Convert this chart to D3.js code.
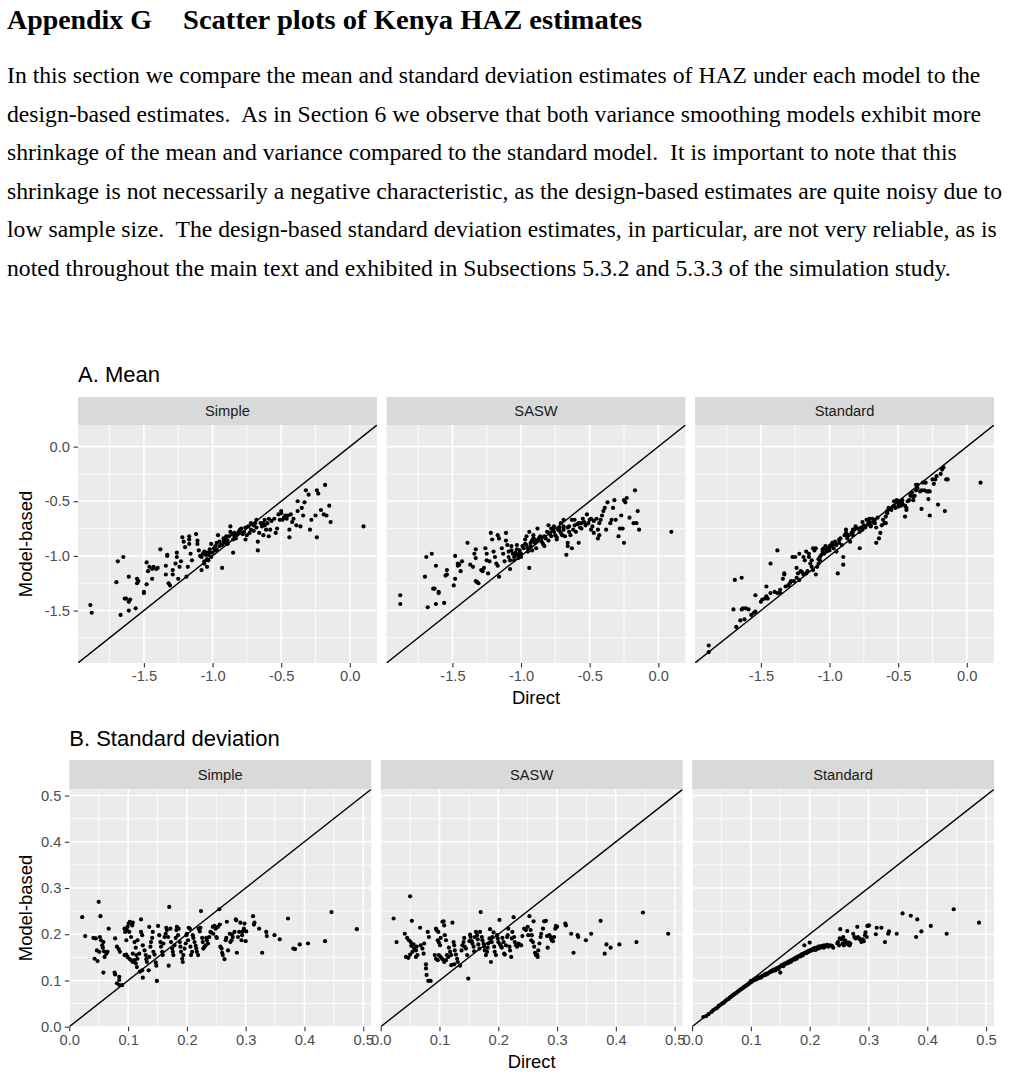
<!DOCTYPE html>
<html><head><meta charset="utf-8">
<script src="https://cdn.jsdelivr.net/npm/d3@7"></script>
<style>body{margin:0;background:#fff}svg{display:block}</style>
</head><body><svg id="c" width="1009" height="1078"></svg>
<script>
// ---------------- text content ----------------
const headingLeft = "Appendix G";
const headingRight = "Scatter plots of Kenya HAZ estimates";
const paragraphLines = [
  "In this section we compare the mean and standard deviation estimates of HAZ under each model to the",
  "design-based estimates.  As in Section 6 we observe that both variance smoothing models exhibit more",
  "shrinkage of the mean and variance compared to the standard model.  It is important to note that this",
  "shrinkage is not necessarily a negative characteristic, as the design-based estimates are quite noisy due to",
  "low sample size.  The design-based standard deviation estimates, in particular, are not very reliable, as is",
  "noted throughout the main text and exhibited in Subsections 5.3.2 and 5.3.3 of the simulation study."
];
const panelTitles = ["A. Mean", "B. Standard deviation"];
const facetNames = ["Simple", "SASW", "Standard"];
const axisTitleX = "Direct";
const axisTitleY = "Model-based";

// ---------------- tick values ----------------
const meanTicks = [-1.5, -1.0, -0.5, 0.0];
const meanMinor = [-1.75, -1.25, -0.75, -0.25];
const sdTicks = [0.0, 0.1, 0.2, 0.3, 0.4, 0.5];
const sdMinor = [0.05, 0.15, 0.25, 0.35, 0.45];

// ---------------- data: [direct, model-based] ----------------
const meanSimple = [[-1.89,-1.45],[-1.88,-1.52],[-1.67,-1.54],[-1.70,-1.24],[-1.69,-1.05],[-1.65,-1.01],[-1.61,-1.19],[-1.64,-1.39],[-1.63,-1.39],[-1.60,-1.40],[-1.61,-1.42],[-1.61,-1.50],[-1.56,-1.48],[-1.55,-1.21],[-1.54,-1.23],[-1.55,-1.25],[-1.50,-1.33],[-1.50,-1.34],[-1.48,-1.26],[-1.48,-1.06],[-1.46,-1.10],[-1.47,-1.14],[-1.44,-1.12],[-1.43,-1.10],[-1.41,-1.12],[-1.40,-1.11],[-1.38,-0.94],[-1.44,-1.21],[-1.34,-1.17],[-1.34,-1.09],[-1.33,-0.99],[-1.33,-1.00],[-1.32,-1.25],[-1.31,-1.27],[-1.29,-1.17],[-1.29,-1.13],[-1.27,-1.07],[-1.26,-1.01],[-1.26,-0.97],[-1.25,-1.21],[-1.24,-1.10],[-1.23,-1.05],[-1.22,-0.83],[-1.21,-0.87],[-1.20,-0.92],[-1.18,-1.10],[-1.19,-1.19],[-1.17,-0.82],[-1.17,-0.85],[-1.17,-0.89],[-1.16,-0.98],[-1.15,-1.04],[-1.12,-0.80],[-1.11,-0.86],[-1.11,-0.89],[-1.10,-0.95],[-1.09,-1.00],[-1.08,-1.01],[-1.07,-0.98],[-1.06,-1.05],[-1.06,-0.96],[-1.04,-1.03],[-1.04,-0.97],[-1.03,-1.04],[-1.02,-0.94],[-1.01,-1.01],[-1.08,-1.13],[-1.04,-1.10],[-1.06,-1.07],[-1.01,-0.89],[-1.00,-0.97],[-0.98,-0.95],[-0.97,-0.88],[-0.96,-0.81],[-0.95,-0.87],[-0.95,-0.91],[-0.93,-1.11],[-0.93,-0.90],[-0.92,-0.84],[-0.90,-0.85],[-0.89,-0.86],[-0.89,-0.89],[-0.87,-0.73],[-0.87,-0.78],[-0.85,-0.97],[-0.85,-0.85],[-0.84,-0.79],[-0.83,-0.84],[-0.81,-0.78],[-0.80,-0.79],[-0.79,-0.75],[-0.78,-0.80],[-0.76,-0.85],[-0.75,-0.81],[-0.74,-0.73],[-0.73,-0.79],[-0.72,-0.70],[-0.70,-0.77],[-0.69,-0.70],[-0.68,-0.67],[-0.67,-0.95],[-0.67,-0.87],[-0.66,-0.79],[-0.64,-0.73],[-0.63,-0.81],[-0.63,-0.70],[-0.62,-0.67],[-0.61,-0.76],[-0.59,-0.66],[-0.59,-0.82],[-0.58,-0.76],[-0.54,-0.79],[-0.53,-0.75],[-0.51,-0.67],[-0.50,-0.61],[-0.50,-0.59],[-0.49,-0.67],[-0.48,-0.65],[-0.47,-0.63],[-0.45,-0.63],[-0.44,-0.76],[-0.44,-0.83],[-0.42,-0.69],[-0.41,-0.66],[-0.39,-0.72],[-0.38,-0.59],[-0.38,-0.50],[-0.36,-0.73],[-0.35,-0.56],[-0.34,-0.63],[-0.33,-0.51],[-0.32,-0.40],[-0.30,-0.44],[-0.29,-0.76],[-0.28,-0.67],[-0.25,-0.63],[-0.24,-0.83],[-0.24,-0.40],[-0.23,-0.43],[-0.21,-0.58],[-0.19,-0.62],[-0.18,-0.35],[-0.17,-0.63],[-0.15,-0.54],[-0.14,-0.69],[0.10,-0.73],
 [-1.05,-0.99],[-1.03,-0.99],[-1.02,-0.97],[-0.99,-0.93],[-0.98,-0.91],[-0.97,-0.94],[-0.94,-0.90],[-0.92,-0.87],[-0.91,-0.88],[-0.90,-0.82],[-0.88,-0.82],[-0.86,-0.80],[-0.84,-0.82],[-0.82,-0.80],[-0.80,-0.76],[-0.77,-0.78],[-0.76,-0.74],[-0.72,-0.76],[-0.70,-0.72],[-0.68,-0.74],[-0.65,-0.70],[-0.62,-0.72],[-0.60,-0.70],[-0.57,-0.68],[-0.55,-0.66],[-0.52,-0.62],[-0.46,-0.66],[-0.43,-0.62]];

const meanSASW = [[-1.88,-1.36],[-1.88,-1.44],[-1.68,-1.47],[-1.70,-1.19],[-1.69,-1.01],[-1.65,-0.98],[-1.62,-1.09],[-1.64,-1.30],[-1.63,-1.30],[-1.60,-1.33],[-1.60,-1.34],[-1.62,-1.44],[-1.56,-1.43],[-1.55,-1.18],[-1.54,-1.13],[-1.54,-1.17],[-1.49,-1.27],[-1.48,-1.21],[-1.48,-1.00],[-1.46,-1.07],[-1.46,-1.09],[-1.45,-1.08],[-1.43,-1.05],[-1.44,-1.14],[-1.39,-0.88],[-1.37,-1.08],[-1.35,-1.10],[-1.34,-0.98],[-1.33,-0.94],[-1.33,-1.02],[-1.33,-1.23],[-1.32,-1.24],[-1.31,-1.25],[-1.29,-1.13],[-1.28,-1.14],[-1.27,-1.11],[-1.26,-0.93],[-1.25,-0.98],[-1.25,-1.04],[-1.23,-1.05],[-1.24,-1.16],[-1.22,-0.79],[-1.21,-0.85],[-1.20,-0.96],[-1.19,-1.01],[-1.18,-1.07],[-1.17,-1.09],[-1.16,-1.19],[-1.17,-0.81],[-1.16,-0.84],[-1.14,-0.93],[-1.13,-0.98],[-1.12,-1.05],[-1.11,-0.79],[-1.11,-0.86],[-1.10,-0.90],[-1.09,-0.96],[-1.09,-1.01],[-1.08,-1.04],[-1.08,-1.12],[-1.07,-0.91],[-1.07,-0.95],[-1.06,-0.98],[-1.05,-1.01],[-1.05,-1.04],[-1.04,-0.97],[-1.03,-0.94],[-1.03,-0.90],[-1.02,-0.99],[-1.02,-1.02],[-1.01,-0.95],[-1.00,-0.98],[-1.00,-1.01],[-0.99,-0.91],[-0.94,-1.11],[-0.97,-0.89],[-0.97,-0.85],[-0.96,-0.82],[-0.95,-0.93],[-0.95,-0.96],[-0.94,-0.78],[-0.93,-0.91],[-0.92,-0.86],[-0.92,-0.95],[-0.91,-0.84],[-0.91,-0.81],[-0.90,-0.88],[-0.89,-0.93],[-0.88,-0.75],[-0.87,-0.84],[-0.86,-0.82],[-0.85,-0.87],[-0.84,-0.89],[-0.83,-0.91],[-0.82,-0.84],[-0.81,-0.78],[-0.80,-0.72],[-0.80,-0.86],[-0.79,-0.79],[-0.78,-0.75],[-0.78,-0.82],[-0.77,-0.76],[-0.76,-0.73],[-0.75,-0.81],[-0.74,-0.85],[-0.74,-0.83],[-0.73,-0.76],[-0.72,-0.74],[-0.71,-0.70],[-0.71,-0.79],[-0.70,-0.81],[-0.69,-0.67],[-0.69,-0.73],[-0.68,-0.82],[-0.67,-0.99],[-0.66,-0.91],[-0.66,-0.88],[-0.65,-0.78],[-0.65,-0.73],[-0.64,-0.81],[-0.63,-0.67],[-0.63,-0.93],[-0.62,-0.76],[-0.61,-0.67],[-0.60,-0.78],[-0.58,-0.88],[-0.58,-0.70],[-0.57,-0.74],[-0.56,-0.75],[-0.55,-0.66],[-0.54,-0.69],[-0.53,-0.72],[-0.52,-0.62],[-0.50,-0.67],[-0.49,-0.76],[-0.49,-0.66],[-0.48,-0.73],[-0.47,-0.79],[-0.45,-0.66],[-0.44,-0.84],[-0.44,-0.76],[-0.43,-0.81],[-0.42,-0.67],[-0.41,-0.63],[-0.40,-0.59],[-0.39,-0.56],[-0.38,-0.76],[-0.37,-0.51],[-0.35,-0.70],[-0.34,-0.67],[-0.33,-0.56],[-0.32,-0.49],[-0.31,-0.67],[-0.29,-0.82],[-0.28,-0.75],[-0.27,-0.63],[-0.26,-0.75],[-0.25,-0.49],[-0.25,-0.88],[-0.24,-0.51],[-0.23,-0.47],[-0.21,-0.65],[-0.18,-0.70],[-0.17,-0.40],[-0.16,-0.70],[-0.15,-0.59],[-0.14,-0.76],[0.095,-0.78],
 [-1.04,-0.99],[-1.01,-0.97],[-0.98,-0.93],[-0.96,-0.90],[-0.93,-0.88],[-0.90,-0.85],[-0.88,-0.86],[-0.85,-0.83],[-0.83,-0.82],[-0.79,-0.80],[-0.76,-0.78],[-0.72,-0.77],[-0.69,-0.76],[-0.66,-0.74],[-0.61,-0.72],[-0.59,-0.71],[-0.56,-0.70],[-0.51,-0.70],[-0.47,-0.68],[-0.43,-0.70]];

const meanStandard = [[-1.88,-1.82],[-1.88,-1.88],[-1.70,-1.49],[-1.68,-1.65],[-1.65,-1.59],[-1.64,-1.49],[-1.63,-1.48],[-1.62,-1.58],[-1.61,-1.48],[-1.59,-1.49],[-1.69,-1.22],[-1.64,-1.20],[-1.57,-1.54],[-1.55,-1.52],[-1.54,-1.51],[-1.54,-1.36],[-1.50,-1.42],[-1.49,-1.40],[-1.47,-1.39],[-1.46,-1.37],[-1.45,-1.39],[-1.46,-1.28],[-1.43,-1.07],[-1.43,-1.34],[-1.40,-1.33],[-1.38,-0.95],[-1.38,-1.34],[-1.36,-1.34],[-1.36,-1.31],[-1.34,-1.21],[-1.33,-1.16],[-1.33,-1.17],[-1.32,-1.28],[-1.30,-1.27],[-1.29,-1.25],[-1.28,-1.23],[-1.27,-1.01],[-1.26,-1.23],[-1.25,-1.01],[-1.24,-1.20],[-1.24,-1.11],[-1.23,-1.16],[-1.22,-1.22],[-1.22,-0.98],[-1.21,-1.14],[-1.20,-1.15],[-1.19,-1.17],[-1.19,-1.01],[-1.18,-1.04],[-1.17,-0.96],[-1.17,-1.16],[-1.16,-1.14],[-1.15,-1.01],[-1.15,-0.98],[-1.14,-1.07],[-1.13,-1.10],[-1.13,-1.04],[-1.12,-1.13],[-1.12,-0.93],[-1.11,-0.95],[-1.10,-0.93],[-1.10,-1.17],[-1.09,-1.10],[-1.08,-1.07],[-1.08,-1.03],[-1.07,-1.04],[-1.07,-1.01],[-1.06,-0.99],[-1.05,-0.96],[-1.05,-0.94],[-1.04,-0.98],[-1.04,-0.93],[-1.03,-0.91],[-1.02,-0.95],[-1.02,-0.96],[-1.01,-0.93],[-1.00,-0.91],[-1.00,-0.92],[-1.00,-0.95],[-0.99,-0.90],[-0.98,-0.88],[-0.98,-0.91],[-0.97,-0.93],[-0.96,-0.89],[-0.96,-0.87],[-0.95,-0.90],[-0.95,-0.96],[-0.94,-1.16],[-0.93,-0.85],[-0.93,-0.88],[-0.92,-0.84],[-0.91,-0.90],[-0.90,-1.01],[-0.90,-1.08],[-0.89,-0.81],[-0.88,-0.76],[-0.88,-0.79],[-0.87,-0.84],[-0.87,-0.82],[-0.86,-0.81],[-0.85,-0.87],[-0.84,-0.79],[-0.83,-0.76],[-0.83,-0.78],[-0.83,-0.81],[-0.82,-0.76],[-0.81,-0.75],[-0.81,-0.73],[-0.79,-0.75],[-0.78,-0.93],[-0.78,-0.78],[-0.77,-0.74],[-0.76,-0.69],[-0.76,-0.76],[-0.75,-0.72],[-0.74,-0.74],[-0.73,-0.67],[-0.72,-0.71],[-0.71,-0.69],[-0.71,-0.66],[-0.70,-0.73],[-0.70,-0.72],[-0.69,-0.66],[-0.68,-0.69],[-0.67,-0.67],[-0.67,-0.70],[-0.66,-0.88],[-0.66,-0.74],[-0.65,-0.65],[-0.64,-0.84],[-0.63,-0.79],[-0.62,-0.72],[-0.61,-0.67],[-0.60,-0.70],[-0.59,-0.64],[-0.59,-0.70],[-0.58,-0.61],[-0.58,-0.59],[-0.57,-0.56],[-0.56,-0.57],[-0.55,-0.58],[-0.54,-0.55],[-0.53,-0.54],[-0.53,-0.50],[-0.52,-0.56],[-0.51,-0.49],[-0.50,-0.52],[-0.50,-0.55],[-0.49,-0.53],[-0.49,-0.50],[-0.48,-0.54],[-0.47,-0.49],[-0.47,-0.52],[-0.45,-0.64],[-0.45,-0.54],[-0.44,-0.56],[-0.44,-0.58],[-0.43,-0.50],[-0.42,-0.49],[-0.41,-0.45],[-0.41,-0.44],[-0.40,-0.42],[-0.39,-0.46],[-0.39,-0.49],[-0.38,-0.45],[-0.37,-0.35],[-0.37,-0.40],[-0.36,-0.38],[-0.36,-0.35],[-0.34,-0.41],[-0.33,-0.57],[-0.33,-0.40],[-0.32,-0.33],[-0.31,-0.40],[-0.30,-0.33],[-0.29,-0.41],[-0.28,-0.41],[-0.28,-0.48],[-0.27,-0.63],[-0.27,-0.41],[-0.25,-0.30],[-0.24,-0.34],[-0.23,-0.30],[-0.22,-0.27],[-0.21,-0.53],[-0.19,-0.25],[-0.18,-0.21],[-0.17,-0.19],[-0.16,-0.59],[-0.15,-0.30],[-0.14,-0.30],[0.10,-0.33]];

const sdSimple = [[0.022,0.237],[0.027,0.196],[0.050,0.270],[0.053,0.239],[0.041,0.192],[0.045,0.191],[0.052,0.194],[0.054,0.187],[0.058,0.183],[0.056,0.176],[0.057,0.171],[0.059,0.163],[0.051,0.162],[0.047,0.165],[0.043,0.147],[0.048,0.142],[0.060,0.151],[0.063,0.158],[0.065,0.162],[0.067,0.212],[0.058,0.117],[0.078,0.191],[0.081,0.173],[0.084,0.168],[0.086,0.162],[0.077,0.117],[0.078,0.113],[0.085,0.108],[0.081,0.094],[0.085,0.090],[0.090,0.090],[0.085,0.101],[0.094,0.212],[0.095,0.205],[0.098,0.209],[0.099,0.216],[0.097,0.187],[0.101,0.223],[0.103,0.227],[0.107,0.219],[0.108,0.225],[0.102,0.205],[0.105,0.194],[0.111,0.183],[0.113,0.171],[0.094,0.155],[0.097,0.156],[0.099,0.151],[0.102,0.147],[0.105,0.144],[0.108,0.140],[0.111,0.144],[0.113,0.137],[0.115,0.129],[0.108,0.158],[0.114,0.155],[0.116,0.147],[0.119,0.158],[0.116,0.187],[0.122,0.232],[0.122,0.205],[0.124,0.198],[0.125,0.176],[0.128,0.165],[0.130,0.155],[0.131,0.146],[0.132,0.140],[0.124,0.122],[0.120,0.119],[0.125,0.106],[0.135,0.122],[0.136,0.151],[0.138,0.173],[0.139,0.183],[0.141,0.192],[0.142,0.205],[0.136,0.216],[0.143,0.162],[0.145,0.156],[0.147,0.139],[0.148,0.132],[0.149,0.099],[0.151,0.218],[0.153,0.198],[0.155,0.183],[0.156,0.173],[0.158,0.162],[0.159,0.155],[0.160,0.180],[0.162,0.194],[0.164,0.201],[0.165,0.214],[0.166,0.209],[0.168,0.194],[0.169,0.132],[0.170,0.259],[0.172,0.212],[0.173,0.183],[0.175,0.169],[0.176,0.162],[0.177,0.155],[0.179,0.176],[0.181,0.192],[0.182,0.209],[0.183,0.216],[0.185,0.198],[0.186,0.212],[0.188,0.183],[0.189,0.173],[0.190,0.162],[0.192,0.147],[0.193,0.140],[0.194,0.155],[0.196,0.169],[0.198,0.180],[0.199,0.198],[0.200,0.201],[0.202,0.187],[0.203,0.214],[0.205,0.212],[0.206,0.173],[0.207,0.155],[0.209,0.162],[0.210,0.198],[0.211,0.192],[0.213,0.183],[0.215,0.175],[0.216,0.169],[0.217,0.162],[0.219,0.155],[0.220,0.212],[0.222,0.206],[0.223,0.214],[0.224,0.250],[0.226,0.192],[0.227,0.183],[0.228,0.169],[0.230,0.173],[0.232,0.176],[0.233,0.192],[0.234,0.187],[0.236,0.180],[0.238,0.194],[0.240,0.205],[0.241,0.204],[0.244,0.216],[0.245,0.201],[0.247,0.218],[0.249,0.212],[0.250,0.194],[0.251,0.192],[0.253,0.216],[0.255,0.254],[0.256,0.221],[0.257,0.173],[0.259,0.169],[0.260,0.160],[0.261,0.155],[0.264,0.146],[0.266,0.187],[0.267,0.192],[0.268,0.227],[0.270,0.165],[0.273,0.201],[0.274,0.183],[0.276,0.187],[0.277,0.199],[0.278,0.194],[0.281,0.205],[0.283,0.232],[0.284,0.230],[0.285,0.160],[0.287,0.194],[0.289,0.205],[0.291,0.225],[0.293,0.187],[0.294,0.198],[0.295,0.206],[0.297,0.212],[0.298,0.223],[0.300,0.185],[0.301,0.206],[0.3125,0.239],[0.314,0.221],[0.315,0.225],[0.323,0.212],[0.328,0.160],[0.335,0.205],[0.336,0.196],[0.349,0.198],[0.358,0.189],[0.372,0.234],[0.381,0.169],[0.384,0.168],[0.392,0.178],[0.406,0.180],[0.435,0.185],[0.446,0.248],[0.489,0.211]];

const sdSASW = [[0.022,0.234],[0.027,0.183],[0.050,0.282],[0.053,0.229],[0.041,0.201],[0.045,0.192],[0.048,0.187],[0.051,0.183],[0.052,0.175],[0.056,0.178],[0.057,0.169],[0.060,0.165],[0.061,0.173],[0.054,0.162],[0.050,0.156],[0.043,0.151],[0.047,0.149],[0.060,0.151],[0.0625,0.155],[0.067,0.214],[0.068,0.176],[0.071,0.169],[0.073,0.158],[0.074,0.180],[0.077,0.135],[0.077,0.126],[0.078,0.112],[0.081,0.099],[0.085,0.099],[0.080,0.205],[0.082,0.194],[0.094,0.212],[0.095,0.209],[0.098,0.205],[0.097,0.187],[0.099,0.182],[0.101,0.176],[0.102,0.192],[0.105,0.227],[0.107,0.228],[0.108,0.219],[0.109,0.198],[0.111,0.187],[0.092,0.155],[0.094,0.147],[0.097,0.144],[0.099,0.155],[0.102,0.151],[0.105,0.146],[0.108,0.140],[0.111,0.144],[0.1125,0.155],[0.115,0.151],[0.116,0.171],[0.118,0.162],[0.120,0.155],[0.122,0.225],[0.124,0.183],[0.125,0.176],[0.126,0.165],[0.128,0.156],[0.130,0.147],[0.131,0.140],[0.120,0.133],[0.125,0.135],[0.135,0.132],[0.1375,0.165],[0.139,0.176],[0.141,0.183],[0.142,0.192],[0.143,0.173],[0.145,0.169],[0.147,0.155],[0.149,0.104],[0.151,0.185],[0.152,0.199],[0.153,0.194],[0.155,0.185],[0.156,0.180],[0.158,0.173],[0.159,0.163],[0.160,0.194],[0.162,0.205],[0.164,0.198],[0.165,0.189],[0.166,0.178],[0.168,0.169],[0.169,0.205],[0.170,0.248],[0.172,0.194],[0.173,0.187],[0.175,0.180],[0.176,0.173],[0.177,0.165],[0.179,0.155],[0.181,0.162],[0.182,0.171],[0.183,0.180],[0.185,0.191],[0.186,0.211],[0.1875,0.140],[0.189,0.183],[0.190,0.194],[0.192,0.204],[0.193,0.173],[0.194,0.162],[0.196,0.155],[0.198,0.198],[0.199,0.191],[0.200,0.183],[0.202,0.231],[0.203,0.178],[0.205,0.173],[0.206,0.171],[0.207,0.192],[0.209,0.183],[0.210,0.158],[0.211,0.156],[0.213,0.176],[0.215,0.194],[0.216,0.198],[0.217,0.212],[0.219,0.173],[0.220,0.165],[0.222,0.151],[0.223,0.191],[0.224,0.205],[0.226,0.237],[0.227,0.194],[0.228,0.183],[0.230,0.176],[0.232,0.173],[0.234,0.180],[0.236,0.178],[0.239,0.176],[0.241,0.196],[0.244,0.212],[0.247,0.209],[0.250,0.216],[0.251,0.198],[0.253,0.239],[0.255,0.209],[0.256,0.187],[0.257,0.198],[0.259,0.183],[0.260,0.228],[0.261,0.173],[0.2625,0.160],[0.264,0.155],[0.266,0.156],[0.267,0.151],[0.268,0.165],[0.270,0.180],[0.272,0.194],[0.273,0.201],[0.276,0.212],[0.278,0.228],[0.281,0.229],[0.283,0.196],[0.284,0.171],[0.287,0.198],[0.289,0.194],[0.290,0.191],[0.291,0.187],[0.293,0.185],[0.295,0.194],[0.297,0.212],[0.298,0.218],[0.300,0.216],[0.314,0.223],[0.315,0.219],[0.324,0.201],[0.328,0.160],[0.335,0.198],[0.336,0.194],[0.349,0.187],[0.358,0.201],[0.374,0.229],[0.381,0.158],[0.384,0.178],[0.391,0.171],[0.406,0.178],[0.435,0.183],[0.446,0.247],[0.489,0.201]];

const sdStandard = [[0.019,0.021],[0.024,0.023],[0.028,0.027],[0.033,0.032],[0.036,0.036],[0.040,0.039],[0.043,0.041],[0.045,0.045],[0.047,0.046],[0.050,0.049],[0.052,0.051],[0.054,0.052],[0.056,0.055],[0.058,0.057],[0.060,0.059],[0.062,0.060],[0.064,0.063],[0.066,0.064],[0.068,0.067],[0.070,0.068],[0.072,0.071],[0.074,0.072],[0.076,0.074],[0.078,0.076],[0.080,0.078],[0.082,0.080],[0.084,0.082],[0.086,0.083],[0.088,0.086],[0.090,0.087],[0.092,0.089],[0.094,0.091],[0.096,0.092],[0.098,0.095],[0.100,0.096],[0.100,0.099],[0.102,0.098],[0.104,0.100],[0.105,0.102],[0.107,0.101],[0.108,0.104],[0.110,0.103],[0.112,0.106],[0.113,0.105],[0.115,0.107],[0.117,0.106],[0.118,0.109],[0.120,0.110],[0.122,0.111],[0.124,0.113],[0.125,0.112],[0.127,0.115],[0.128,0.114],[0.130,0.116],[0.132,0.118],[0.134,0.119],[0.135,0.121],[0.137,0.120],[0.138,0.123],[0.140,0.124],[0.142,0.122],[0.144,0.126],[0.145,0.127],[0.147,0.125],[0.148,0.129],[0.150,0.130],[0.150,0.117],[0.152,0.132],[0.153,0.134],[0.155,0.131],[0.157,0.135],[0.158,0.137],[0.160,0.136],[0.162,0.139],[0.164,0.138],[0.165,0.141],[0.167,0.143],[0.168,0.140],[0.170,0.144],[0.172,0.146],[0.174,0.145],[0.175,0.148],[0.177,0.150],[0.178,0.147],[0.180,0.151],[0.182,0.153],[0.184,0.152],[0.185,0.155],[0.187,0.157],[0.188,0.154],[0.190,0.158],[0.191,0.176],[0.192,0.160],[0.194,0.159],[0.195,0.162],[0.197,0.161],[0.198,0.164],[0.200,0.182],[0.200,0.163],[0.202,0.166],[0.204,0.165],[0.205,0.168],[0.207,0.167],[0.208,0.170],[0.210,0.166],[0.212,0.171],[0.214,0.169],[0.215,0.173],[0.217,0.170],[0.218,0.174],[0.220,0.172],[0.222,0.175],[0.224,0.171],[0.225,0.176],[0.228,0.174],[0.230,0.177],[0.232,0.173],[0.235,0.176],[0.238,0.175],[0.240,0.171],[0.247,0.180],[0.248,0.183],[0.250,0.176],[0.251,0.191],[0.252,0.211],[0.254,0.189],[0.256,0.180],[0.257,0.194],[0.258,0.176],[0.260,0.187],[0.261,0.185],[0.2625,0.182],[0.264,0.207],[0.265,0.178],[0.267,0.182],[0.268,0.176],[0.269,0.180],[0.274,0.201],[0.276,0.194],[0.278,0.191],[0.281,0.216],[0.282,0.194],[0.284,0.191],[0.285,0.189],[0.288,0.183],[0.290,0.189],[0.292,0.185],[0.294,0.198],[0.295,0.204],[0.297,0.194],[0.298,0.218],[0.299,0.218],[0.301,0.219],[0.3125,0.200],[0.314,0.214],[0.322,0.214],[0.328,0.183],[0.3335,0.201],[0.335,0.206],[0.348,0.201],[0.358,0.245],[0.372,0.240],[0.381,0.194],[0.383,0.232],[0.390,0.206],[0.406,0.218],[0.433,0.201],[0.445,0.254],[0.488,0.225]];

// ---------------- drawing ----------------
const svg = d3.select("#c");
const sans = "'Liberation Sans', Arial, Helvetica, sans-serif";
const serif = "'Liberation Serif', 'Times New Roman', Times, serif";

// heading (Times-like, slightly condensed as in the reference)
const headFS = 27;
const hL = svg.append("text").attr("x", 7).attr("y", 29)
  .attr("font-family", serif).attr("font-weight", "bold").attr("font-size", headFS)
  .attr("fill", "#000").text(headingLeft)
  .attr("textLength", 145).attr("lengthAdjust", "spacingAndGlyphs");
svg.append("text").attr("x", 183).attr("y", 29)
  .attr("font-family", serif).attr("font-weight", "bold").attr("font-size", headFS)
  .attr("fill", "#000").text(headingRight)
  .attr("textLength", 459).attr("lengthAdjust", "spacingAndGlyphs");

// paragraph: natural Times metrics at 22.5px, condensed so line 4 spans the reference width
const pFS = 22.5;
const pg = svg.append("g").attr("font-family", serif).attr("fill", "#000");
const widths = paragraphLines.map(t => {
  const p = pg.append("text").attr("font-size", pFS).style("white-space", "pre").text(t);
  const wv = p.node().getComputedTextLength();
  p.remove();
  return wv;
});
const squeeze = 995 / widths[3];
const lineBase = [83, 121.5, 160, 198.5, 237, 275.5];
pg.selectAll("text.p").data(paragraphLines).join("text").attr("class", "p")
  .attr("x", 7).attr("y", (d, i) => lineBase[i])
  .attr("font-size", pFS).style("white-space", "pre")
  .attr("textLength", (d, i) => widths[i] * squeeze).attr("lengthAdjust", "spacingAndGlyphs")
  .text(d => d);

const fmt = v => v.toFixed(1);

const layouts = [
  {title: panelTitles[0], titleY: 382, stripTop: 397, top: 425, bottom: 663, left: 78, right: 994, gap: 9.5,
   domain: [-1.98, 0.198], ticks: meanTicks, minor: meanMinor, series: [meanSimple, meanSASW, meanStandard], xTitleY: 704},
  {title: panelTitles[1], titleY: 746, stripTop: 760, top: 789.3, bottom: 1026.7, left: 69.3, right: 994, gap: 9.5,
   domain: [0, 0.5135], ticks: sdTicks, minor: sdMinor, series: [sdSimple, sdSASW, sdStandard], xTitleY: 1068}
];

layouts.forEach((L, pi) => {
  const g = svg.append("g");
  const w = (L.right - L.left - 2 * L.gap) / 3;
  const y = d3.scaleLinear().domain(L.domain).range([L.bottom, L.top]);

  g.append("text").attr("x", L.left).attr("y", L.titleY)
    .attr("font-family", sans).attr("font-size", 22).attr("fill", "#000").text(L.title);

  facetNames.forEach((name, i) => {
    const x0 = L.left + i * (w + L.gap);
    const x = d3.scaleLinear().domain(L.domain).range([x0, x0 + w]);
    const f = g.append("g");

    // strip
    f.append("rect").attr("x", x0).attr("y", L.stripTop).attr("width", w).attr("height", L.top - L.stripTop).attr("fill", "#D9D9D9");
    f.append("text").attr("x", x0 + w / 2).attr("y", (L.stripTop + L.top) / 2).attr("dy", "0.35em")
      .attr("text-anchor", "middle").attr("font-family", sans).attr("font-size", 14.7).attr("fill", "#1A1A1A").text(name);

    // panel
    f.append("rect").attr("x", x0).attr("y", L.top).attr("width", w).attr("height", L.bottom - L.top).attr("fill", "#EBEBEB");

    const clipId = `clip${pi}_${i}`;
    f.append("clipPath").attr("id", clipId).append("rect")
      .attr("x", x0).attr("y", L.top).attr("width", w).attr("height", L.bottom - L.top);
    const inner = f.append("g").attr("clip-path", `url(#${clipId})`);

    // minor grid
    inner.selectAll("line.mx").data(L.minor).join("line").attr("class", "mx")
      .attr("x1", d => x(d)).attr("x2", d => x(d)).attr("y1", L.top).attr("y2", L.bottom)
      .attr("stroke", "#fff").attr("stroke-width", 0.8);
    inner.selectAll("line.my").data(L.minor).join("line").attr("class", "my")
      .attr("y1", d => y(d)).attr("y2", d => y(d)).attr("x1", x0).attr("x2", x0 + w)
      .attr("stroke", "#fff").attr("stroke-width", 0.8);
    // major grid
    inner.selectAll("line.Mx").data(L.ticks).join("line").attr("class", "Mx")
      .attr("x1", d => x(d)).attr("x2", d => x(d)).attr("y1", L.top).attr("y2", L.bottom)
      .attr("stroke", "#fff").attr("stroke-width", 1.6);
    inner.selectAll("line.My").data(L.ticks).join("line").attr("class", "My")
      .attr("y1", d => y(d)).attr("y2", d => y(d)).attr("x1", x0).attr("x2", x0 + w)
      .attr("stroke", "#fff").attr("stroke-width", 1.6);

    // identity line
    inner.append("line")
      .attr("x1", x(L.domain[0])).attr("y1", y(L.domain[0]))
      .attr("x2", x(L.domain[1])).attr("y2", y(L.domain[1]))
      .attr("stroke", "#000").attr("stroke-width", 1.4);

    // points
    inner.selectAll("circle").data(L.series[i]).join("circle")
      .attr("cx", d => x(d[0])).attr("cy", d => y(d[1])).attr("r", 2.1).attr("fill", "#000");

    // x axis
    const xa = f.append("g").attr("transform", `translate(0,${L.bottom})`)
      .call(d3.axisBottom(x).tickValues(L.ticks).tickFormat(fmt).tickSize(4.5).tickPadding(3.5));
    xa.select(".domain").remove();
    xa.selectAll("line").attr("stroke", "#333333").attr("stroke-width", 1.1);
    xa.selectAll("text").attr("font-family", sans).attr("font-size", 14.7).attr("fill", "#4D4D4D");

    if (i === 0) {
      const ya = f.append("g").attr("transform", `translate(${x0},0)`)
        .call(d3.axisLeft(y).tickValues(L.ticks).tickFormat(fmt).tickSize(4.5).tickPadding(3.5));
      ya.select(".domain").remove();
      ya.selectAll("line").attr("stroke", "#333333").attr("stroke-width", 1.1);
      ya.selectAll("text").attr("font-family", sans).attr("font-size", 14.7).attr("fill", "#4D4D4D");
    }
  });

  // axis titles
  g.append("text").attr("x", (L.left + L.right) / 2).attr("y", L.xTitleY)
    .attr("text-anchor", "middle").attr("font-family", sans).attr("font-size", 18.4).attr("fill", "#000").text(axisTitleX);
  g.append("text").attr("transform", `translate(32,${(L.top + L.bottom) / 2}) rotate(-90)`)
    .attr("text-anchor", "middle").attr("font-family", sans).attr("font-size", 18.4).attr("fill", "#000").text(axisTitleY);
});
</script>
</body></html>
